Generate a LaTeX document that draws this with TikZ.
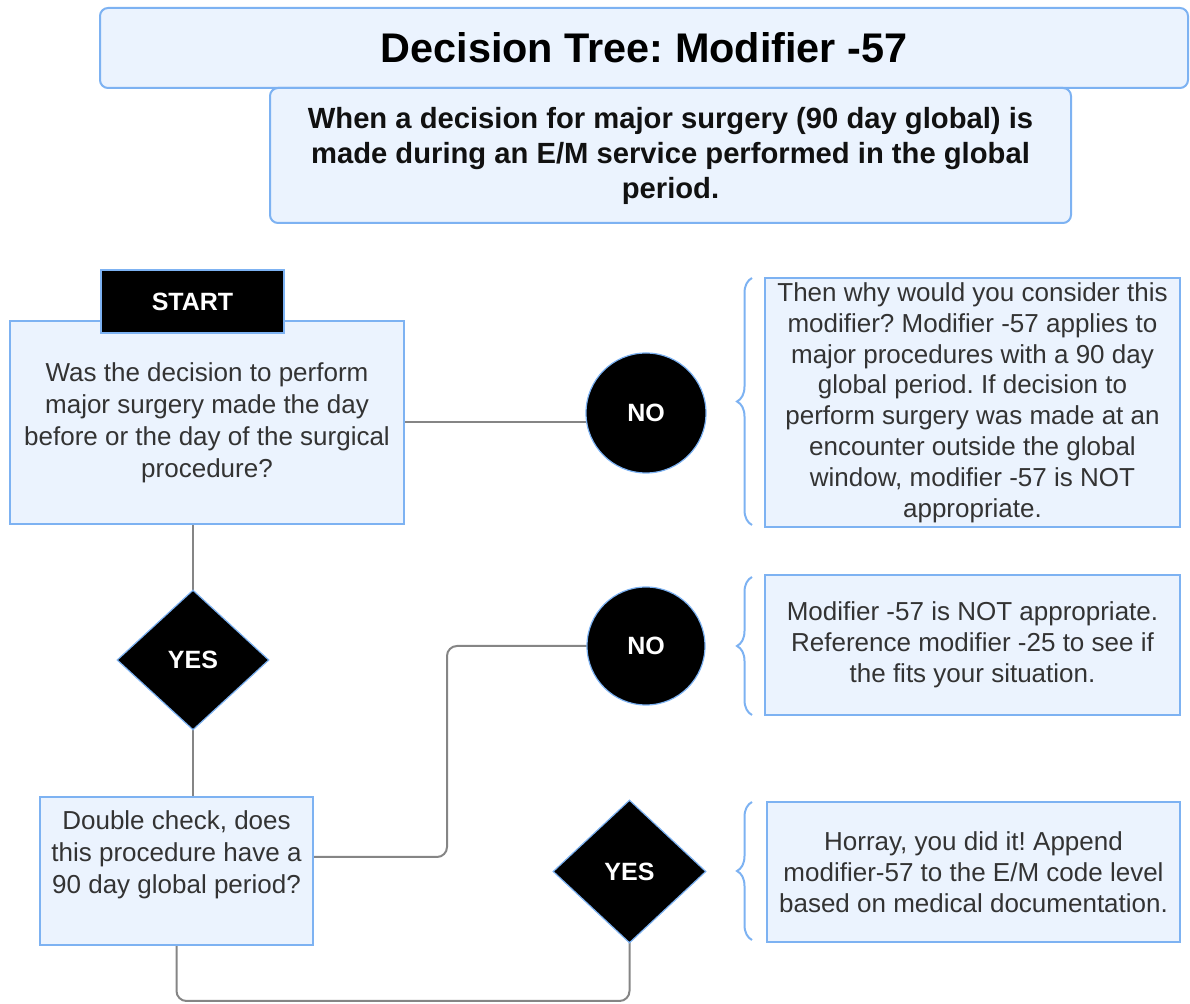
\documentclass[tikz,border=0pt]{standalone}
\usepackage{fontspec}
\setmainfont{Liberation Sans}
\usetikzlibrary{shapes.geometric,decorations.pathreplacing}
\definecolor{boxfill}{HTML}{EBF3FE}
\definecolor{boxline}{HTML}{7DB2F2}
\definecolor{conn}{HTML}{858585}
\definecolor{bodytext}{HTML}{333333}
\definecolor{subtext}{HTML}{111111}
\pgfdeclarelayer{background}
\pgfsetlayers{background,main}
\frenchspacing
\begin{document}
\frenchspacing
\begin{tikzpicture}[x=0.5pt,y=-0.5pt,
  infobox/.style={draw=boxline, line width=1pt, fill=boxfill, inner sep=0pt,
    align=center, text=bodytext, font=\fontsize{13}{16}\selectfont},
  headbox/.style={infobox, rounded corners=4pt},
  blacklabel/.style={fill=black, draw=boxline, line width=0.6pt, text=white,
    inner sep=0pt, font=\fontsize{12.5}{15}\selectfont\bfseries},
  nocircle/.style={blacklabel, circle},
  yesdiamond/.style={blacklabel, diamond},
  connector/.style={draw=conn, line width=1pt, rounded corners=5pt},
  bracestyle/.style={draw=boxline, line width=1pt,
    decoration={brace, amplitude=7.5pt}, decorate},
  plaintext/.style={inner sep=0pt, align=center, text=bodytext,
    font=\fontsize{13}{16}\selectfont}
]
\useasboundingbox (0,0) rectangle (1190,1004);

% header
\node[headbox, minimum width=544pt, minimum height=40pt,
  font=\fontsize{20.7}{24}\selectfont\bfseries, text=black]
  (title) at (644,48) {Decision Tree: Modifier -57};
\node[headbox, minimum width=400.5pt, minimum height=67.5pt,
  font=\fontsize{14.6}{17.5}\selectfont\bfseries, text=subtext]
  (sub) at (670.5,155.5) {When a decision for major surgery (90 day global) is\\
  made during an E/M service performed in the global\\ period.};

% first question
\node[infobox, minimum width=197pt, minimum height=101.5pt]
  (q1) at (207,422.5) {Was the decision to perform\\ major surgery made the day\\
  before or the day of the surgical\\ procedure?};
\node[blacklabel, minimum width=91.5pt, minimum height=31.5pt]
  (start) at (192.5,301.5) {START};

\node[nocircle, minimum size=60pt] (no1) at (646,413) {NO};
\node[infobox, minimum width=207.5pt, minimum height=124.5pt,
  font=\fontsize{13}{15.4}\selectfont]
  (a1) at (972.5,402.5) {Then why would you consider this\\
  modifier? Modifier -57 applies to\\ major procedures with a 90 day\\
  global period. If decision to\\ perform surgery was made at an\\
  encounter outside the global\\ window, modifier -57 is NOT\\ appropriate.};

\node[yesdiamond, minimum width=76pt, minimum height=70pt, aspect=1.086]
  (yes1) at (193,660) {YES};

% second question
\node[infobox, minimum width=136.5pt, minimum height=74pt] (q2) at (176.5,871) {};
\node[plaintext] (q2text) at (176.5,855) {Double check, does\\
  this procedure have a\\ 90 day global period?};

\node[nocircle, minimum size=59pt] (no2) at (646,646) {NO};
\node[infobox, minimum width=207.5pt, minimum height=70pt,
  font=\fontsize{13}{15.6}\selectfont]
  (a2) at (972.5,645) {Modifier -57 is NOT appropriate.\\
  Reference modifier -25 to see if\\ the fits your situation.};

\node[yesdiamond, minimum width=76.5pt, minimum height=71.5pt, aspect=1.07]
  (yes2) at (629.5,871.5) {YES};
\node[infobox, minimum width=206.5pt, minimum height=70pt,
  font=\fontsize{13}{15.6}\selectfont]
  (a3) at (973.5,872) {Horray, you did it! Append\\
  modifier-57 to the E/M code level\\ based on medical documentation.};

\coordinate (jx) at (447,0);
\coordinate (bot) at (400,1001);

% braces
\draw[bracestyle] (752,525) -- (752,278);
\draw[bracestyle] (752,715) -- (752,577);
\draw[bracestyle] (752,940) -- (752,802);

% connectors
\begin{pgfonlayer}{background}
\draw[connector] (q1.east) -- (q1.east -| no1.center);
\draw[connector] (yes1.center |- q1.south) -- (yes1.center);
\draw[connector] (yes1.center) -- (yes1.center |- q2.north);
\draw[connector] ([yshift=7pt]q2.east) -| (jx |- no2.center) -- (no2.center);
\draw[connector] (q2.south) |- (bot) -| (yes2.center);
\end{pgfonlayer}
\end{tikzpicture}
\end{document}
